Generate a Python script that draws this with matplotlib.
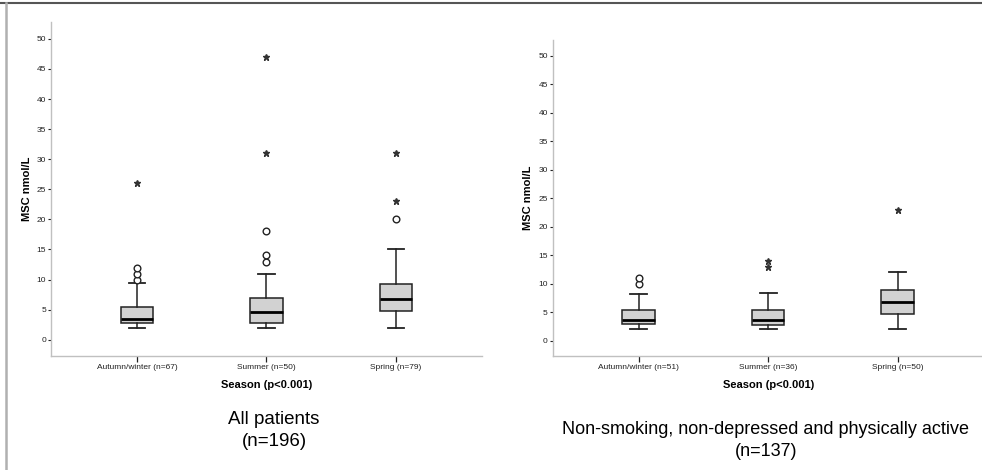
import matplotlib
matplotlib.use('Agg')
import matplotlib.pyplot as plt
from matplotlib.lines import Line2D

plt.rcParams['font.family'] = ['Liberation Sans', 'DejaVu Sans']

# season groups: whisker low, Q1, median, Q3, whisker high
all_labels = ['Autumn/winter (n=67)', 'Summer (n=50)', 'Spring (n=79)']
all_stats = [
    (2.0, 2.8, 3.5, 5.5, 9.5),
    (2.0, 2.8, 4.6, 6.9, 11.0),
    (2.0, 4.8, 6.8, 9.2, 15.0),
]
all_outliers = [[10, 11, 12], [13, 14, 18], [20]]
all_extremes = [[26], [31, 47], [23, 31]]

sub_labels = ['Autumn/winter (n=51)', 'Summer (n=36)', 'Spring (n=50)']
sub_stats = [
    (2.0, 2.9, 3.6, 5.4, 8.2),
    (2.0, 2.8, 3.6, 5.3, 8.4),
    (2.0, 4.7, 6.8, 8.9, 12.1),
]
sub_outliers = [[10, 11], [], []]
sub_extremes = [[], [13, 14], [23]]

yticks = list(range(0, 51, 5))


def draw_panel(ax, labels, stats, outliers, extremes):
    boxes = []
    for s in stats:
        boxes.append({'whislo': s[0], 'q1': s[1], 'med': s[2], 'q3': s[3], 'whishi': s[4]})
    ax.bxp(boxes, positions=[1, 2, 3], widths=0.25, patch_artist=True,
           showfliers=False,
           boxprops=dict(facecolor='#d2d2d2', edgecolor='#222222', linewidth=1.1),
           medianprops=dict(color='black', linewidth=2.0),
           whiskerprops=dict(color='#222222', linewidth=1.1),
           capprops=dict(color='#222222', linewidth=1.3),
           capwidths=0.13)
    for i, vals in enumerate(outliers):
        ax.plot([i + 1] * len(vals), vals, 'o', ms=4.8, mfc='white',
                mec='#222222', mew=1.0, ls='none')
    for i, vals in enumerate(extremes):
        ax.plot([i + 1] * len(vals), vals, '*', ms=4.8, color='#333333', ls='none')

    ax.set_xlim(0.336, 3.664)
    ax.set_ylim(-2.7, 52.8)
    ax.set_yticks(yticks)
    ax.set_xticks([1, 2, 3])
    ax.set_xticklabels(labels)
    ax.tick_params(axis='y', labelsize=6, length=2.5, width=0.8, pad=1, colors='#222222')
    ax.tick_params(axis='x', labelsize=6, length=4.5, width=0.9, pad=1.5, colors='#222222')
    for side in ('top', 'right'):
        ax.spines[side].set_visible(False)
    for side in ('left', 'bottom'):
        ax.spines[side].set_color('#c0c0c0')
        ax.spines[side].set_linewidth(1.0)
    ax.set_ylabel('MSC nmol/L', fontsize=8, fontweight='bold', labelpad=3.5)
    ax.set_xlabel('Season (p<0.001)', fontsize=8, fontweight='bold', labelpad=6)


fig = plt.figure(figsize=(9.82, 4.70), dpi=100)

ax1 = fig.add_axes([0.0519, 0.2426, 0.4389, 0.7106])
draw_panel(ax1, all_labels, all_stats, all_outliers, all_extremes)

ax2 = fig.add_axes([0.5628, 0.2426, 0.4389, 0.6723])
draw_panel(ax2, sub_labels, sub_stats, sub_outliers, sub_extremes)

fig.text(0.279, 1 - 420 / 470, 'All patients', ha='center', va='center', fontsize=13.5)
fig.text(0.279, 1 - 442 / 470, '(n=196)', ha='center', va='center', fontsize=13.5)
fig.text(0.780, 1 - 430 / 470, 'Non-smoking, non-depressed and physically active',
         ha='center', va='center', fontsize=13)
fig.text(0.780, 1 - 452 / 470, '(n=137)', ha='center', va='center', fontsize=13)

# frame lines along the top and left edge
fig.add_artist(Line2D([0, 1], [1 - 2.5 / 470] * 2, color='#555555', lw=1.5))
fig.add_artist(Line2D([5.5 / 982] * 2, [0, 1 - 3 / 470], color='#b0b0b0', lw=1.8))

fig.savefig('out.png', dpi=100)
